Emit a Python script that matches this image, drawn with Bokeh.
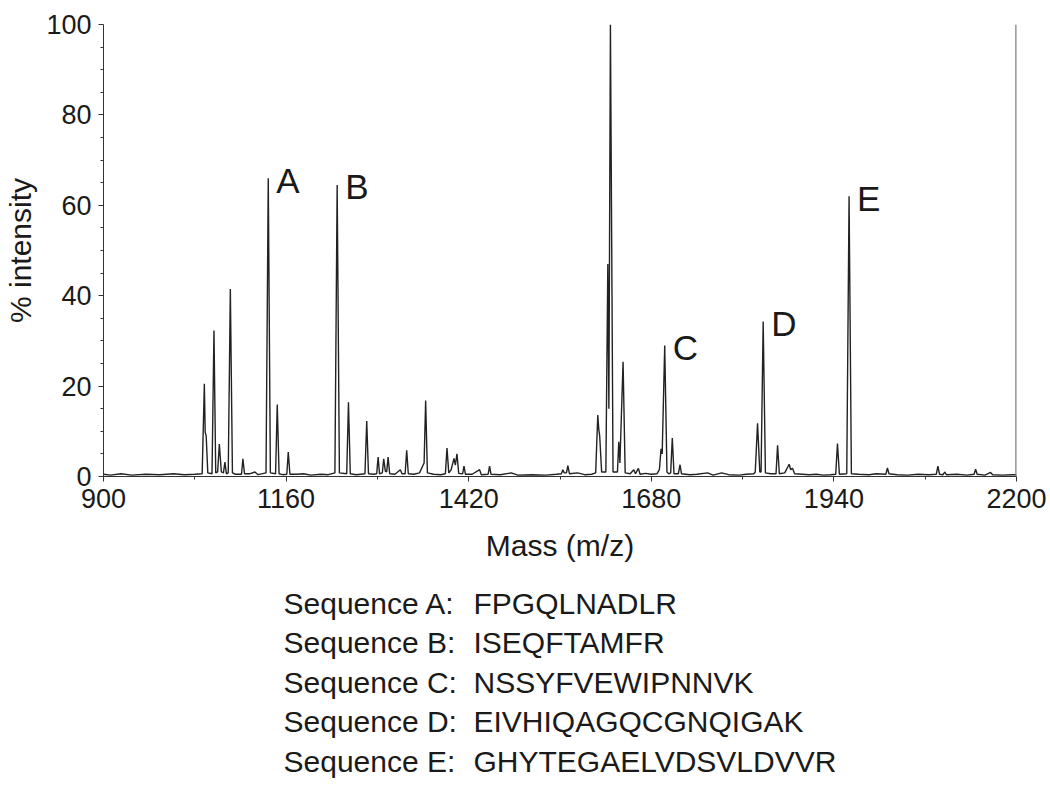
from bokeh.plotting import figure
from bokeh.models import Range1d, FixedTicker, ColumnDataSource
from bokeh.layouts import column
from bokeh.core.properties import value
from bokeh.embed import file_html
from bokeh.resources import INLINE

# ---------------- data ----------------
# spectrum trace vertices (m/z, % intensity)
trace_mz = [
    900, 910, 925, 940, 960, 980, 1000, 1015, 1030, 1040.5,
    1043.6, 1044.8, 1046.2, 1048.5, 1054.5, 1057.3, 1059.8, 1062.5, 1064.9, 1067.8,
    1070.8, 1072.9, 1075.0, 1077.6, 1080.6, 1083.6, 1088, 1096.5, 1098.5, 1100.8,
    1108, 1115.6, 1120, 1131.4, 1134.6, 1137.6, 1145.0, 1147.4, 1150.0, 1155,
    1161.0, 1163.1, 1165.4, 1175, 1185, 1195, 1210, 1220, 1229.5, 1232.7,
    1235.9, 1246.3, 1248.8, 1251.4, 1260, 1272.3, 1274.8, 1277.3, 1285, 1289,
    1291.0, 1293.0, 1297.0, 1299.0, 1301.3, 1303.2, 1305.2, 1307.5, 1315, 1322.7,
    1325, 1329.5, 1331.7, 1334.0, 1342, 1350, 1355.0, 1356.5, 1358.7, 1361.2,
    1370, 1380, 1386.8, 1389.1, 1391.6, 1395, 1399.1, 1401.0, 1403.3, 1405.8,
    1411.3, 1413.3, 1415.3, 1425, 1435.5, 1438, 1447.7, 1449.7, 1451.7, 1465,
    1480.6, 1490, 1510, 1530, 1545, 1552, 1554.1, 1556, 1559.2, 1561.2,
    1563.5, 1575, 1585, 1595, 1600.8, 1603.8, 1605.2, 1606.5, 1609.3, 1615.3,
    1618.1, 1619.6, 1621.8, 1625.5, 1631.8, 1633.7, 1635.3, 1639.8, 1642.8, 1650,
    1655.0, 1657.5, 1661.6, 1664, 1672, 1680, 1688, 1691.5, 1693.9, 1695.5,
    1699.1, 1702.3, 1705.0, 1707.6, 1709.9, 1712.3, 1718.5, 1720.9, 1723, 1735,
    1745, 1760.2, 1768, 1780.2, 1790, 1805, 1815, 1826, 1828, 1831.3,
    1834.5, 1836.3, 1839.3, 1842.5, 1850, 1857.6, 1859.8, 1862.3, 1870, 1876.3,
    1878.5, 1881.1, 1884, 1895, 1905, 1915, 1925, 1935, 1942.6, 1945.1,
    1947.8, 1958.3, 1961.6, 1964.9, 1975, 1990, 2000, 2014, 2016.2, 2018.4,
    2030, 2045, 2060, 2075, 2085.8, 2088.1, 2090.4, 2095.5, 2097.7, 2100,
    2115, 2130, 2139.6, 2141.8, 2144, 2155, 2163.1, 2166, 2180, 2195,
    2200,
]
trace_int = [
    0.5, 0.3, 0.6, 0.3, 0.5, 0.4, 0.6, 0.4, 0.5, 0.6,
    20.5, 9.8, 9.0, 0.8, 0.6, 32.3, 0.8, 1.0, 7.2, 1.0,
    0.8, 3.2, 0.6, 0.8, 41.5, 0.8, 0.5, 0.5, 3.9, 0.6,
    0.6, 1.0, 0.4, 0.8, 66.0, 0.8, 0.6, 15.9, 0.6, 0.4,
    0.5, 5.4, 0.5, 0.5, 0.6, 0.3, 0.5, 0.4, 0.8, 64.5,
    0.8, 0.6, 16.4, 0.6, 0.4, 0.6, 12.3, 0.6, 0.5, 0.6,
    4.3, 0.6, 0.8, 3.9, 1.2, 1.0, 4.3, 0.6, 0.5, 1.5,
    0.6, 0.6, 5.8, 0.6, 0.5, 0.8, 2.5, 3.0, 16.8, 0.8,
    0.5, 0.4, 0.6, 6.3, 0.8, 1.5, 4.0, 2.5, 5.0, 0.7,
    0.6, 2.3, 0.5, 0.5, 1.5, 0.4, 0.5, 2.3, 0.5, 0.4,
    0.8, 0.3, 0.4, 0.3, 0.5, 0.6, 1.5, 0.8, 0.8, 2.4,
    0.6, 0.8, 0.4, 0.5, 0.8, 13.6, 10.5, 9.0, 1.0, 1.0,
    47.0, 15.0, 100.0, 1.0, 1.0, 7.7, 3.0, 25.4, 0.8, 0.6,
    1.5, 0.6, 1.8, 0.5, 0.7, 0.5, 0.6, 1.5, 6.1, 5.0,
    29.0, 1.0, 0.6, 0.8, 8.5, 0.6, 0.6, 2.6, 0.6, 0.4,
    0.5, 0.8, 0.3, 0.8, 0.4, 0.3, 0.5, 0.6, 1.0, 11.8,
    1.0, 1.0, 34.3, 0.8, 0.6, 0.6, 6.9, 0.6, 0.8, 2.7,
    1.5, 1.8, 0.6, 0.5, 0.4, 0.5, 0.3, 0.4, 0.5, 7.3,
    0.5, 0.6, 62.0, 0.6, 0.5, 0.4, 0.6, 0.5, 1.9, 0.6,
    0.4, 0.3, 0.5, 0.4, 0.5, 2.3, 0.5, 0.4, 1.0, 0.4,
    0.5, 0.3, 0.5, 1.6, 0.5, 0.3, 0.9, 0.4, 0.3, 0.4,
    0.4,
]

# end-of-scan marker line
end_mz = [2200, 2200]
end_int = [0, 100]

# labelled peaks
peak_labels = ["A", "B", "C", "D", "E"]
peak_mz = [1134.6, 1232.7, 1699.1, 1839.3, 1961.6]
peak_int = [66.0, 64.5, 29.0, 34.3, 62.0]

# sequences of labelled peptides
seq_letters = ["A", "B", "C", "D", "E"]
sequences = ["FPGQLNADLR", "ISEQFTAMFR", "NSSYFVEWIPNNVK",
             "EIVHIQAGQCGNQIGAK", "GHYTEGAELVDSVLDVVR"]

x_ticks = [900, 1160, 1420, 1680, 1940, 2200]
x_minor = [1030, 1290, 1550, 1810, 2070]
y_ticks = [0, 20, 40, 60, 80, 100]
y_minor = [v for v in range(0, 101, 5) if v % 20 != 0]

# ---------------- figure ----------------
FONT = "Liberation Sans"
INK = "#1a1a1a"
W = 1046
FL, FR = 103, 1016   # frame left / right edges on the page

p = figure(width=W, height=580, output_backend="svg", toolbar_location=None,
           x_range=Range1d(900, 2200), y_range=Range1d(0, 100),
           min_border_left=FL, min_border_top=24, min_border_right=W - FR,
           min_border_bottom=104)
p.outline_line_color = None
p.xgrid.grid_line_color = None
p.ygrid.grid_line_color = None
p.background_fill_color = "white"
p.border_fill_color = "white"

p.line(trace_mz, trace_int, line_color="#222222", line_width=1.4)
p.line(end_mz, end_int, line_color="#808080", line_width=2.5)

src = ColumnDataSource(dict(x=peak_mz, y=peak_int, t=peak_labels))
p.text(x="x", y="y", text="t", source=src, x_offset=8, y_offset=2,
       text_font=value(FONT), text_font_size="35px", text_color=INK,
       text_baseline="alphabetic", text_align="left")

# axes
p.xaxis.ticker = FixedTicker(ticks=x_ticks, minor_ticks=x_minor)
p.yaxis.ticker = FixedTicker(ticks=y_ticks, minor_ticks=y_minor)
for ax in (p.xaxis, p.yaxis):
    ax.axis_line_color = "#333333"
    ax.major_tick_line_color = "#333333"
    ax.minor_tick_line_color = "#333333"
    ax.major_tick_in = 0
    ax.major_tick_out = 5
    ax.minor_tick_in = 0
    ax.minor_tick_out = 3
    ax.major_label_text_font = FONT
    ax.major_label_text_font_size = "27px"
    ax.major_label_text_color = INK
    ax.axis_label_text_font = FONT
    ax.axis_label_text_font_size = "30px"
    ax.axis_label_text_font_style = "normal"
    ax.axis_label_text_color = INK
    ax.major_label_standoff = 7

p.xaxis.axis_label = "Mass (m/z)"
p.yaxis.axis_label = "% intensity"
p.xaxis.axis_label_standoff = 18
p.yaxis.axis_label_standoff = 6

# sequence listing below the chart (text-only panel aligned with the frame,
# x measured in page px, y measured downward in px)
H2 = 216
q = figure(frame_width=FR - FL, frame_height=H2, output_backend="svg",
           toolbar_location=None, x_axis_location=None, y_axis_location=None,
           x_range=Range1d(FL, FR), y_range=Range1d(H2, 0), min_border=0)
q.xgrid.grid_line_color = None
q.ygrid.grid_line_color = None
q.outline_line_color = None

rows = list(range(len(sequences)))
seq_src = ColumnDataSource(dict(
    xl=[283] * len(rows), xs=[473] * len(rows),
    y=[22.5 + 39.6 * i for i in rows],
    lab=[f"Sequence {c}:" for c in seq_letters],
    seq=sequences))
q.text(x="xl", y="y", text="lab", source=seq_src, text_font=value(FONT),
       text_font_size="30px", text_color=INK, text_baseline="alphabetic")
q.text(x="xs", y="y", text="seq", source=seq_src, text_font=value(FONT),
       text_font_size="30px", text_color=INK, text_baseline="alphabetic")

layout = column(p, q, spacing=0)
open("out.html", "w").write(file_html(layout, INLINE))
